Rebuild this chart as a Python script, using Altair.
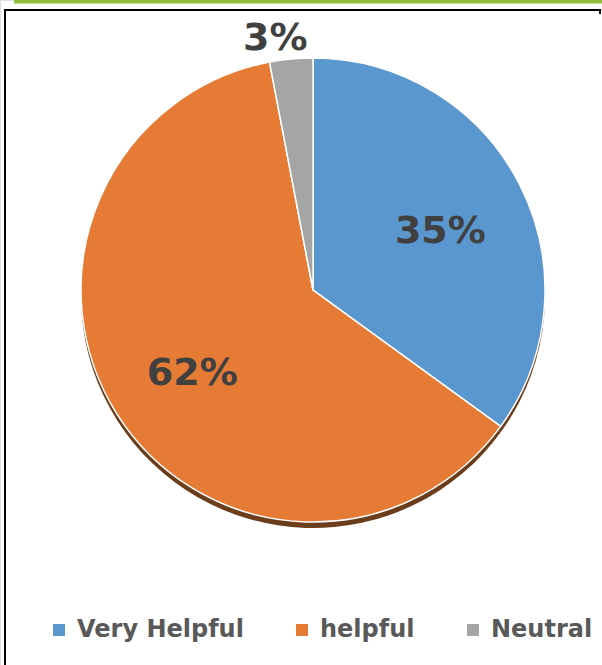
import altair as alt
import pandas as pd

categories = ["Very Helpful", "helpful", "Neutral"]
values = [35, 62, 3]
labels = ["35%", "62%", "3%"]
colors = ["#5b97cf", "#e57b35", "#a5a5a5"]

df = pd.DataFrame({"cat": categories, "val": values, "label": labels, "idx": list(range(len(categories)))})
one = pd.DataFrame({"a": [0]})

CX, CY, R = 313, 290, 232
FONT = "DejaVu Sans"

base = alt.Chart(df).encode(
    theta=alt.Theta("val:Q", stack=True),
    order=alt.Order("idx:Q"),
)

shadow = base.mark_arc(radius=R, color="#6b3d1a").encode(
    x=alt.value(CX), y=alt.value(CY + 6)
)

pie = base.mark_arc(radius=R, stroke="white", strokeWidth=1.5).encode(
    x=alt.value(CX),
    y=alt.value(CY),
    color=alt.Color(
        "cat:N",
        scale=alt.Scale(domain=categories, range=colors),
        legend=alt.Legend(
            title=None,
            orient="none",
            legendX=47,
            legendY=618,
            direction="horizontal",
            symbolType="square",
            symbolSize=144,
            symbolStrokeWidth=0,
            labelFontSize=24,
            labelFont=FONT,
            labelFontWeight="bold",
            labelColor="#595959",
            labelLimit=400,
            columnPadding=46,
            labelOffset=6,
        ),
    ),
)

inner = base.mark_text(
    radius=143, dy=7, fontSize=38, fontWeight="bold", font=FONT,
    color="#404040", baseline="middle", align="center"
).encode(
    x=alt.value(CX), y=alt.value(CY),
    text=alt.condition("datum.val > 5", "label:N", alt.value("")),
)

outer = base.mark_text(
    radius=252, dx=-14, fontSize=38, fontWeight="bold", font=FONT,
    color="#404040", baseline="middle", align="center"
).encode(
    x=alt.value(CX), y=alt.value(CY),
    text=alt.condition("datum.val <= 5", "label:N", alt.value("")),
)

green = alt.Chart(one).mark_rule(color="#8dbf3a", strokeWidth=4).encode(
    x=alt.value(14), x2=alt.value(602), y=alt.value(1.5)
)
frame_top = alt.Chart(one).mark_rule(color="black", strokeWidth=2).encode(
    x=alt.value(4), x2=alt.value(600), y=alt.value(10)
)
frame_left = alt.Chart(one).mark_rule(color="black", strokeWidth=2).encode(
    x=alt.value(5), y=alt.value(9), y2=alt.value(665)
)
frame_tick = alt.Chart(one).mark_rule(color="black", strokeWidth=2).encode(
    x=alt.value(600), y=alt.value(9), y2=alt.value(14)
)

chart = alt.layer(
    green, frame_top, frame_left, frame_tick, shadow, pie, inner, outer
).properties(
    width=602, height=665, autosize=alt.AutoSizeParams(type="none"), padding=0
).configure_view(stroke=None).configure(background="white")

chart.save("out.html", embed_options={"renderer": "svg", "actions": False})
